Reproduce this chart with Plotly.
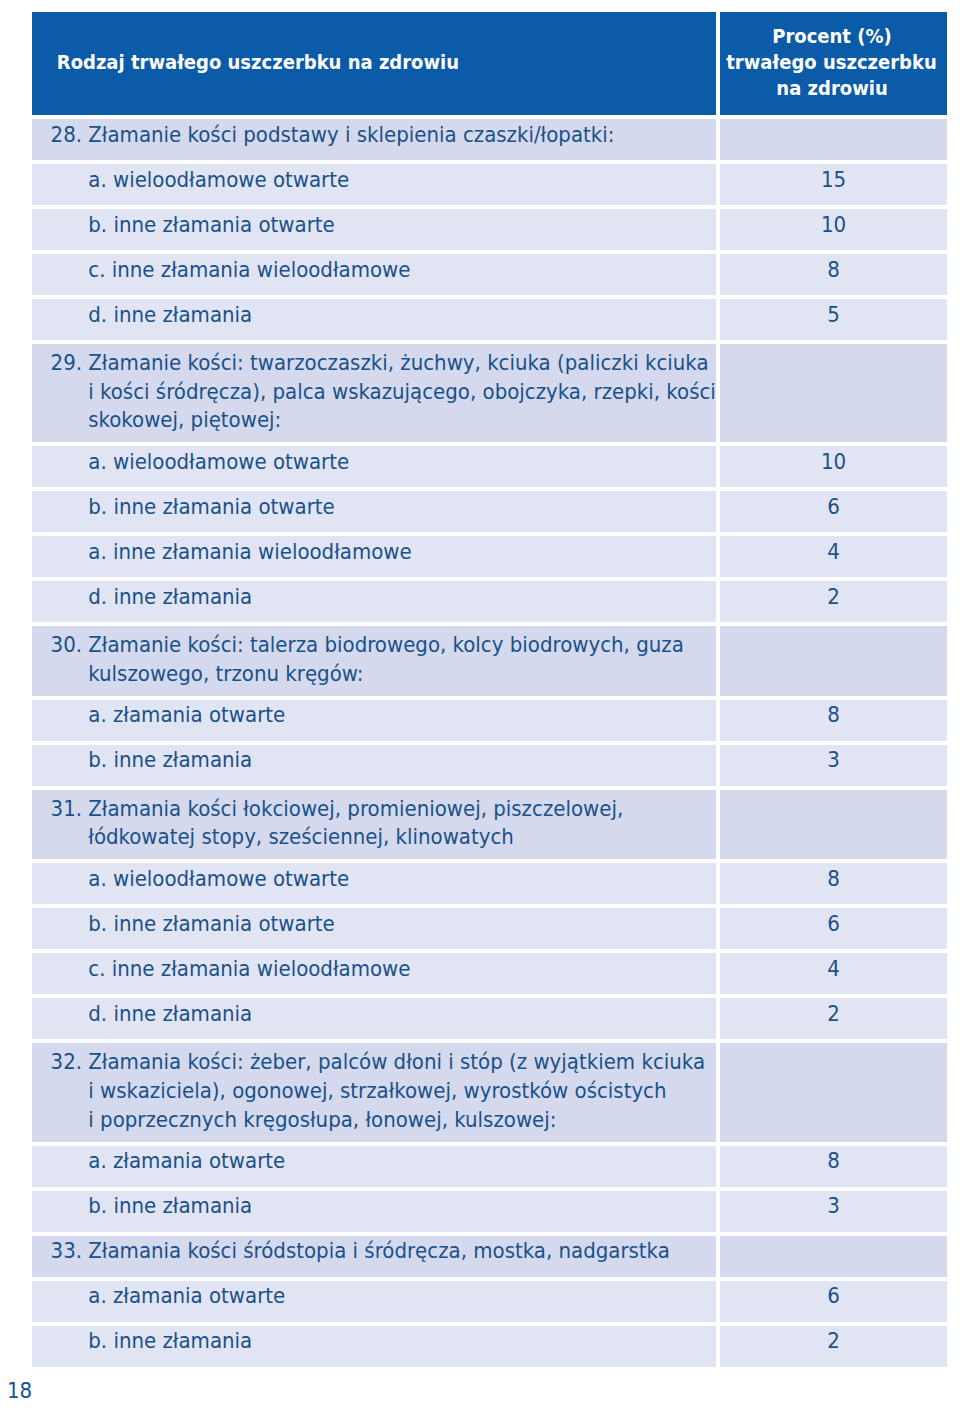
import plotly.graph_objects as go

# table content
header_left = "Rodzaj trwałego uszczerbku na zdrowiu"
header_right = ["Procent (%)", "trwałego uszczerbku", "na zdrowiu"]

numbers = ["28.", "", "", "", "",
           "29.", "", "", "", "",
           "30.", "", "",
           "31.", "", "", "", "",
           "32.", "", "",
           "33.", "", ""]

descriptions = [
    ["Złamanie kości podstawy i sklepienia czaszki/łopatki:"],
    ["a. wieloodłamowe otwarte"],
    ["b. inne złamania otwarte"],
    ["c. inne złamania wieloodłamowe"],
    ["d. inne złamania"],
    ["Złamanie kości: twarzoczaszki, żuchwy, kciuka (paliczki kciuka",
     "i kości śródręcza), palca wskazującego, obojczyka, rzepki, kości",
     "skokowej, piętowej:"],
    ["a. wieloodłamowe otwarte"],
    ["b. inne złamania otwarte"],
    ["a. inne złamania wieloodłamowe"],
    ["d. inne złamania"],
    ["Złamanie kości: talerza biodrowego, kolcy biodrowych, guza",
     "kulszowego, trzonu kręgów:"],
    ["a. złamania otwarte"],
    ["b. inne złamania"],
    ["Złamania kości łokciowej, promieniowej, piszczelowej,",
     "łódkowatej stopy, sześciennej, klinowatych"],
    ["a. wieloodłamowe otwarte"],
    ["b. inne złamania otwarte"],
    ["c. inne złamania wieloodłamowe"],
    ["d. inne złamania"],
    ["Złamania kości: żeber, palców dłoni i stóp (z wyjątkiem kciuka",
     "i wskaziciela), ogonowej, strzałkowej, wyrostków ościstych",
     "i poprzecznych kręgosłupa, łonowej, kulszowej:"],
    ["a. złamania otwarte"],
    ["b. inne złamania"],
    ["Złamania kości śródstopia i śródręcza, mostka, nadgarstka"],
    ["a. złamania otwarte"],
    ["b. inne złamania"],
]

percents = ["", "15", "10", "8", "5",
            "", "10", "6", "4", "2",
            "", "8", "3",
            "", "8", "6", "4", "2",
            "", "8", "3",
            "", "6", "2"]

BLUE = "#0B5BA8"
TEXT = "#1A5189"
CAT_BG = "#D4D9EE"
SUB_BG = "#E1E4F2"
FONT = "DejaVu Sans Condensed, sans-serif"

NB = "\u00a0"
indent = NB * 8
# invisible wide-metric spaces: a bit of extra room below / above the text
TAIL = '<span style="font-size:38px">' + NB + "</span>"
HEAD = '<span style="font-size:27px">' + NB + "</span>"

left_col = []
for num, lines in zip(numbers, descriptions):
    if num:
        parts = [NB * 2 + num + NB + lines[0]] + [indent + l for l in lines[1:]]
    else:
        parts = [indent + l for l in lines]
    if len(parts) > 1:
        parts[-1] += TAIL
    left_col.append("<br>".join(parts))

# plotly centres the whole block, so pad the short header lines by hand
right_head = "<br>".join([HEAD + NB * 6 + header_right[0], header_right[1],
                          NB * 8 + header_right[2]])
left_head = HEAD + "<br>" + NB * 3 + header_left

row_fill = [CAT_BG if n else SUB_BG for n in numbers]

fig = go.Figure()
fig.add_trace(go.Table(
    domain=dict(x=[22 / 960, 942 / 960], y=[0, 1 - 2 / 1412]),
    columnwidth=[689, 231],
    header=dict(
        values=[left_head, right_head],
        align=["left", "left"],
        fill_color=BLUE,
        line=dict(color="white", width=4),
        font=dict(family=FONT, size=20, color="white", weight="bold"),
        height=107,
    ),
    cells=dict(
        values=[left_col, percents],
        align=["left", "center"],
        fill_color=[row_fill, row_fill],
        line=dict(color="white", width=4),
        font=dict(family=FONT, size=22, color=TEXT),
        height=45,
    ),
))

fig.add_annotation(
    text="18", x=0, y=1 - 1382 / 1412, xref="paper", yref="paper",
    xanchor="left", yanchor="middle", showarrow=False,
    xshift=-3, font=dict(family=FONT, size=22, color=TEXT),
)

fig.update_layout(
    width=960, height=1412,
    margin=dict(l=0, r=0, t=0, b=0),
    paper_bgcolor="white",
)

fig.write_html("out.html")
